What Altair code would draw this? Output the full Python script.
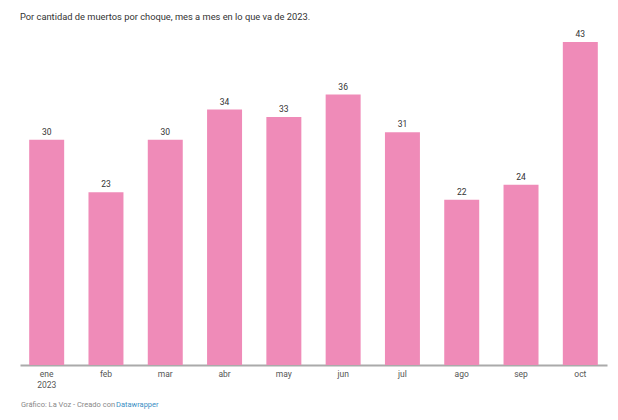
import altair as alt
import pandas as pd

months = ["ene", "feb", "mar", "abr", "may", "jun", "jul", "ago", "sep", "oct"]
values = [30, 23, 30, 34, 33, 36, 31, 22, 24, 43]

df = pd.DataFrame({"mes": months, "muertos": values})

W, H = 587, 323

x = alt.X("mes:N", sort=months,
          scale=alt.Scale(paddingInner=0.41, paddingOuter=0.155),
          axis=alt.Axis(title=None, labelAngle=0, ticks=False, domain=True,
                        domainColor="#aaaaaa", domainWidth=2,
                        labelColor="#555555", labelFontSize=8.5, labelPadding=4,
                        labelFont="Roboto", labelLineHeight=11,
                        labelExpr="datum.label == 'ene' ? ['ene', '2023'] : datum.label"))
y = alt.Y("muertos:Q", scale=alt.Scale(domain=[0, 43], nice=False), axis=None)

bars = alt.Chart(df).mark_bar(color="#ef8bb8").encode(x=x, y=y)
labels = alt.Chart(df).mark_text(dy=-8, fontSize=8.5, color="#333333", font="Roboto").encode(
    x=x, y=y, text="muertos:Q")

foot1 = alt.Chart(pd.DataFrame({"t": ["Gráfico: La Voz - Creado con "]})).mark_text(
    align="left", baseline="middle", fontSize=7.5, color="#888888", font="Roboto"
).encode(x=alt.value(1), y=alt.value(H + 40), text="t:N")
foot2 = alt.Chart(pd.DataFrame({"t": ["Datawrapper"]})).mark_text(
    align="left", baseline="middle", fontSize=7.5, color="#3a8fc4", font="Roboto"
).encode(x=alt.value(96), y=alt.value(H + 40), text="t:N")

chart = alt.layer(bars, labels, foot1, foot2).properties(
    width=W, height=H,
    autosize=alt.AutoSizeParams(type="none"),
    padding={"left": 12, "top": 34, "right": 2, "bottom": 45},
    title=alt.TitleParams(
        "Por cantidad de muertos por choque, mes a mes en lo que va de 2023.",
        anchor="start", fontSize=9.3, fontWeight="normal", color="#333333",
        font="Roboto", offset=8),
).configure_view(stroke=None)

chart.save("out.html", embed_options={"renderer": "svg", "actions": False})
